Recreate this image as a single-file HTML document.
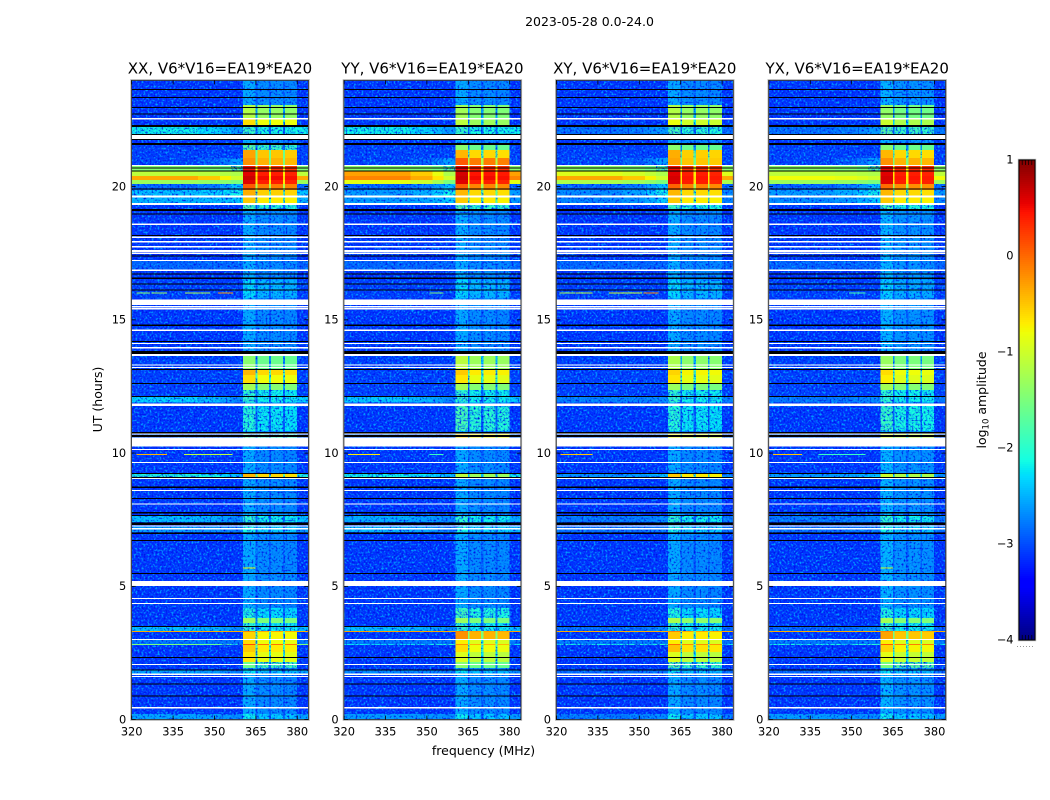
<!DOCTYPE html>
<html>
<head>
<meta charset="utf-8">
<title>2023-05-28 0.0-24.0</title>
<style>
html,body{margin:0;padding:0;background:#fff;}
#chart{display:block;width:1050px;height:800px;font-family:"DejaVu Sans","Liberation Sans",sans-serif;fill:#000;}
#chart rect.c{shape-rendering:crispEdges;}
</style>
</head>
<body>
<svg id="chart" xmlns="http://www.w3.org/2000/svg" width="1050" height="800" viewBox="0 0 1050 800">
  <defs>
    <filter id="grainLight" x="0" y="0" width="1" height="1" color-interpolation-filters="sRGB">
      <feTurbulence type="fractalNoise" baseFrequency="0.5" numOctaves="2" seed="7"/>
      <feColorMatrix type="matrix" values="0 0 0 0 0  0 0 0 0 0.62  0 0 0 0 1  4.2 0 0 0 -2.05"/>
    </filter>
    <filter id="grainDark" x="0" y="0" width="1" height="1" color-interpolation-filters="sRGB">
      <feTurbulence type="fractalNoise" baseFrequency="0.5" numOctaves="2" seed="23"/>
      <feColorMatrix type="matrix" values="0 0 0 0 0  0 0 0 0 0.05  0 0 0 0 0.9  3.6 0 0 0 -1.9"/>
    </filter>
  </defs>
  <text x="589.5" y="26" text-anchor="middle" font-size="12.5">2023-05-28 0.0-24.0</text>
  <g id="panels"></g>
  <text transform="translate(102,399.5) rotate(-90)" text-anchor="middle" font-size="12.5">UT (hours)</text>
  <text x="483.5" y="755" text-anchor="middle" font-size="12.5">frequency (MHz)</text>
  <g id="colorbar"></g>
  <text transform="translate(986,400) rotate(-90)" text-anchor="middle" font-size="12.5">log<tspan font-size="8.5" dy="2.5">10</tspan><tspan dy="-2.5"> amplitude</tspan></text>
</svg>
<script>
// ---- chart data (log10 amplitude) ----
const panelNames = ['XX', 'YY', 'XY', 'YX'];
const titleSuffix = ', V6*V16=EA19*EA20';
const freqTicks = [320, 335, 350, 365, 380];
const hourTicks = [0, 5, 10, 15, 20];
const colorTicks = [1, 0, -1, -2, -3, -4];

// Frequency channels of the heatmap columns (MHz)
const freqEdges = [320, 344, 352, 356, 360.4, 364.9, 365.5, 369.7, 370.5, 374.9, 375.5, 379.9, 384];
const subbandOffset = [0.18, 0, 0, -0.03];

// Time bands (hours)
const bandStart = [0, 22.57, 22.31, 21.97, 21.37, 21.07, 20.81, 20.58, 20.40, 20.25, 20.10, 19.87, 19.65, 19.34, 19.12, 16.87, 15.82, 13.12, 12.93, 12.63, 12.37, 12.15, 11.89, 10.83, 10.57, 9.10, 7.41, 7.04, 3.81, 3.62, 3.47, 3.33, 3.29, 3.03, 2.84, 2.80, 2.54, 2.16, 1.94, 1.71, 0];
const bandEnd = [24, 23.06, 22.57, 22.24, 21.56, 21.37, 21.07, 20.81, 20.58, 20.40, 20.25, 20.10, 19.87, 19.65, 19.34, 17.21, 16.50, 13.64, 13.12, 12.93, 12.63, 12.37, 12.11, 11.77, 10.72, 9.25, 7.64, 7.27, 4.19, 3.81, 3.62, 3.47, 3.33, 3.29, 3.03, 2.84, 2.80, 2.54, 2.16, 1.86, 0.21];

// Off-band level per time band, per correlation
const bgXX = [-3.15, -3.15, -3.15, -2.15, -3.1, -3.1, -3.1, -1.45, -1.1, -0.35, -1.3, -2.9, -2.4, -2.45, -3.15, -2.9, -3.1, -3.1, -3.1, -3.1, -3.1, -3.1, -2.3, -3.15, -2.9, -2.05, -2.4, -2.6, -3.15, -3.15, -3.15, -2.4, -0.35, -3.15, -2.8, -1.5, -3.15, -3.15, -3.15, -2.55, -2.55];
const bgYY = [-3.15, -3.15, -3.15, -2.15, -3.1, -3.1, -3.1, -1.4, -0.3, -0.15, -0.85, -2.9, -2.6, -2.6, -3.15, -2.9, -3.1, -3.1, -3.1, -3.1, -3.1, -3.1, -2.35, -3.15, -2.9, -2.15, -2.5, -2.45, -3.15, -3.15, -3.15, -2.4, -0.3, -3.15, -2.8, -2.2, -3.15, -3.15, -3.15, -2.7, -2.6];
const bgXY = [-3.15, -3.15, -3.15, -2.85, -3.1, -3.1, -3.1, -1.4, -0.9, -0.35, -1.2, -2.9, -2.7, -2.75, -3.15, -2.9, -3.1, -3.1, -3.1, -3.1, -3.1, -3.1, -2.75, -3.15, -2.9, -2.65, -2.8, -2.85, -3.15, -3.15, -3.15, -2.9, -0.35, -3.15, -2.8, -2.1, -3.15, -3.15, -3.15, -2.9, -2.8];
const bgYX = [-3.15, -3.15, -3.15, -2.85, -3.1, -3.1, -3.1, -1.4, -1.1, -0.8, -1.3, -2.9, -2.6, -2.7, -3.15, -2.9, -3.1, -3.1, -3.1, -3.1, -3.1, -3.1, -2.8, -3.15, -2.9, -2.6, -2.8, -2.85, -3.15, -3.15, -3.15, -2.9, -0.35, -3.15, -2.8, -2.1, -3.15, -3.15, -3.15, -2.9, -2.6];

// Level just below the 360 MHz band edge (skirt), per time band
const skirtLevel = [-3.15, -3.15, -3.15, -2.6, -3.1, -3.1, -2.6, -1.7, -1.2, -1.0, -1.5, -2.4, -2.15, -2.35, -3.15, -2.9, -3.1, -3.1, -3.1, -3.1, -3.1, -3.1, -2.7, -3.15, -2.9, -2.4, -2.7, -2.8, -3.15, -3.15, -3.15, -2.7, -0.35, -3.15, -2.8, -2.0, -3.15, -3.15, -3.15, -2.8, -2.7];

// In-band level per time band, per correlation
const blockXX = [-2.7, -1.35, -0.8, -2.1, -1.9, -0.5, -0.4, 0.3, 0.4, 0.5, 0.4, -0.1, -0.55, -0.7, -2.0, -2.7, -2.45, -1.6, -0.6, -0.8, -1.45, -2.15, -2.15, -2.2, -1.9, -0.6, -2.15, -2.3, -2.25, -1.5, -2.15, -2.15, -0.35, -0.75, -0.8, -0.05, -0.7, -0.85, -1.8, -2.4, -2.35];
const blockYY = [-2.7, -1.45, -1.3, -2.1, -1.6, -0.6, -0.1, 0.35, 0.45, 0.5, 0.4, -0.15, -0.6, -0.7, -1.95, -2.7, -2.45, -1.3, -0.7, -0.85, -1.45, -2.15, -2.15, -2.0, -0.75, -1.3, -2.15, -2.3, -2.05, -1.5, -2.15, -2.15, -0.3, -0.4, -0.9, -0.4, -0.8, -1.1, -1.6, -2.4, -2.35];
const blockXY = [-2.7, -1.35, -1.0, -2.0, -1.6, -0.55, -0.5, 0.3, 0.4, 0.45, 0.4, -0.15, -0.6, -0.7, -2.05, -2.7, -2.45, -1.4, -0.75, -0.85, -1.5, -2.15, -2.15, -2.2, -1.0, -0.7, -2.15, -2.3, -2.25, -1.4, -2.15, -2.15, -0.35, -0.7, -0.9, -0.2, -0.65, -1.1, -1.9, -2.4, -2.35];
const blockYX = [-2.65, -1.55, -1.2, -1.9, -1.6, -0.6, -0.4, 0.35, 0.4, 0.45, 0.4, -0.2, -0.6, -0.7, -2.05, -2.65, -2.5, -1.5, -0.8, -0.9, -1.45, -2.15, -2.15, -2.1, -1.1, -1.2, -2.15, -2.3, -2.25, -1.45, -2.15, -2.15, -0.35, -0.5, -0.9, -0.1, -0.75, -1.05, -1.7, -2.4, -2.35];

// Flagged (blanked) time ranges, hours
const whiteStart = [22.51, 21.78, 20.77, 19.59, 19.31, 18.55, 18.07, 17.90, 17.72, 17.55, 17.47, 17.20, 16.83, 15.56, 15.47, 15.39, 14.59, 14.09, 13.93, 13.64, 13.30, 13.19, 11.76, 10.69, 10.24, 10.12, 9.62, 9.03, 8.57, 8.07, 7.25, 7.14, 5.01, 4.52, 4.33, 2.98, 2.05, 1.68, 1.60, 0.42];
const whiteEnd = [22.57, 21.93, 20.81, 19.66, 19.38, 18.61, 18.12, 17.96, 17.78, 17.62, 17.52, 17.24, 16.89, 15.76, 15.52, 15.44, 14.64, 14.14, 13.98, 13.72, 13.33, 13.24, 11.87, 10.74, 10.58, 10.15, 9.66, 9.06, 8.61, 8.11, 7.29, 7.19, 5.20, 4.56, 4.37, 3.02, 2.08, 1.73, 1.64, 0.47];
const blackStart = [23.63, 23.32, 22.95, 22.70, 22.23, 21.93, 21.74, 21.56, 20.68, 20.56, 19.89, 19.08, 18.95, 18.14, 17.37, 16.70, 16.54, 16.33, 16.10, 14.77, 14.17, 13.72, 13.12, 12.59, 12.10, 10.74, 10.61, 9.22, 9.06, 8.70, 8.28, 7.74, 7.64, 7.30, 6.96, 6.70, 5.47, 3.50, 2.31, 1.85, 1.33, 0.88];
const blackEnd = [23.66, 23.36, 22.98, 22.74, 22.31, 21.97, 21.78, 21.63, 20.72, 20.60, 19.93, 19.16, 18.99, 18.18, 17.41, 16.74, 16.58, 16.37, 16.14, 14.83, 14.20, 13.84, 13.16, 12.63, 12.14, 10.79, 10.68, 9.25, 9.10, 8.74, 8.32, 7.79, 7.68, 7.40, 7.02, 6.74, 5.51, 3.52, 2.35, 1.88, 1.36, 0.91];

// Narrow-band interference segments
const spurPanel = [0, 0, 0, 0, 2, 2, 2, 2, 1, 3, 0, 0, 1, 1, 2, 3, 3, 0, 3];
const spurHour = [16.03, 16.03, 16.03, 16.03, 16.03, 16.03, 16.03, 16.03, 16.03, 16.03, 9.97, 9.97, 9.97, 9.97, 9.97, 9.97, 9.97, 5.7, 5.7];
const spurFrom = [321.8, 327.2, 339.3, 351.3, 321, 327, 339, 351.5, 351, 349, 321.8, 339, 321.5, 351, 321.5, 321.5, 338, 360.4, 360.4];
const spurTo = [326.6, 332.7, 348.4, 356.7, 326.9, 333, 351, 357, 356, 355, 332.7, 356.5, 333, 356, 333, 332, 355, 364.9, 364.9];
const spurLevel = [-1.4, -1.3, -1.2, -0.2, -1.2, -1.1, -1.0, -0.1, -1.5, -1.8, -0.4, -1.1, -0.7, -1.9, -0.5, -0.5, -1.9, -0.8, -1.0];

// ---- layout + axis functions ----
const SVGNS = 'http://www.w3.org/2000/svg';
const AX = { left: 131.7, step: 212.4, width: 176.6, top: 80.4, bottom: 719.6, fmin: 320, fmax: 384, hmax: 24 };
const CB = { left: 1019, right: 1035, top: 160, bottom: 640, vmin: -4, vmax: 1 };

function panelLeft(p) { return AX.left + p * AX.step; }
function xScale(p, f) { return panelLeft(p) + (f - AX.fmin) / (AX.fmax - AX.fmin) * AX.width; }
function yScale(h) { return AX.bottom - h * 26.65; }
function cbScale(v) { return CB.bottom - (v - CB.vmin) / (CB.vmax - CB.vmin) * (CB.bottom - CB.top); }

function ramp(t, pts) {
  for (let i = 1; i < pts.length; i++) {
    if (t <= pts[i][0]) {
      const a = pts[i - 1], b = pts[i];
      return a[1] + (b[1] - a[1]) * (t - a[0]) / (b[0] - a[0]);
    }
  }
  return pts[pts.length - 1][1];
}
function jet(v) {
  const t = Math.max(0, Math.min(1, (v - CB.vmin) / (CB.vmax - CB.vmin)));
  const r = ramp(t, [[0, 0], [0.35, 0], [0.66, 1], [0.89, 1], [1, 0.5]]);
  const g = ramp(t, [[0, 0], [0.125, 0], [0.375, 1], [0.64, 1], [0.91, 0], [1, 0]]);
  const b = ramp(t, [[0, 0.5], [0.11, 1], [0.34, 1], [0.65, 0], [1, 0]]);
  return 'rgb(' + Math.round(r * 255) + ',' + Math.round(g * 255) + ',' + Math.round(b * 255) + ')';
}

function heatCell(parent, x0, x1, y0, y1, fill) {
  const el = document.createElementNS(SVGNS, 'rect');
  
  
  el.setAttribute('class', 'c');
  el.setAttribute('x', x0.toFixed(2));
  el.setAttribute('y', y0.toFixed(2));
  el.setAttribute('width', (x1 - x0).toFixed(2));
  el.setAttribute('height', Math.max(1, y1 - y0).toFixed(2));
  el.setAttribute('fill', fill);
  parent.appendChild(el);
  return el;
}
function flagRow(parent, x0, x1, y0, y1, fill) {
  const el = document.createElementNS(SVGNS, 'rect');
  
  
  el.setAttribute('class', 'c');
  el.setAttribute('x', x0.toFixed(2));
  el.setAttribute('y', y0.toFixed(2));
  el.setAttribute('width', (x1 - x0).toFixed(2));
  el.setAttribute('height', Math.max(1, y1 - y0).toFixed(2));
  el.setAttribute('fill', fill);
  parent.appendChild(el);
}
function spurLine(parent, x0, x1, y, fill) {
  const el = document.createElementNS(SVGNS, 'rect');
  
  
  el.setAttribute('class', 'c');
  el.setAttribute('x', x0.toFixed(2));
  el.setAttribute('y', y.toFixed(2));
  el.setAttribute('width', (x1 - x0).toFixed(2));
  el.setAttribute('height', '1');
  el.setAttribute('fill', fill);
  parent.appendChild(el);
}
function tickLine(parent, x1, y1, x2, y2, w) {
  const el = document.createElementNS(SVGNS, 'line');
  
  
  el.setAttribute('x1', x1);
  el.setAttribute('y1', y1);
  el.setAttribute('x2', x2);
  el.setAttribute('y2', y2);
  el.setAttribute('stroke', '#000');
  el.setAttribute('stroke-width', w);
  parent.appendChild(el);
}
function tickText(parent, x, y, anchor, str) {
  const el = document.createElementNS(SVGNS, 'text');
  
  
  el.setAttribute('x', x);
  el.setAttribute('y', y);
  el.setAttribute('text-anchor', anchor);
  el.setAttribute('font-size', '11.4');
  el.textContent = str;
  parent.appendChild(el);
}
function frameRect(parent, x, y, w, h, stroke, sw) {
  const el = document.createElementNS(SVGNS, 'rect');
  
  
  el.setAttribute('x', x);
  el.setAttribute('y', y);
  el.setAttribute('width', w);
  el.setAttribute('height', h);
  el.setAttribute('fill', 'none');
  el.setAttribute('stroke', stroke);
  el.setAttribute('stroke-width', sw);
  parent.appendChild(el);
}
function grainRect(parent, x, y, w, h, filterId) {
  const el = document.createElementNS(SVGNS, 'rect');
  
  
  el.setAttribute('x', x);
  el.setAttribute('y', y);
  el.setAttribute('width', w);
  el.setAttribute('height', h);
  el.setAttribute('filter', 'url(#' + filterId + ')');
  parent.appendChild(el);
}
function makeGroup(parent, name) {
  const g = document.createElementNS(SVGNS, 'g');
  
  
  parent.appendChild(g);
  return g;
}

// Level of column k in time band i of panel p
function columnLevel(p, i, k, bgSet, blockSet) {
  const bg = bgSet[p][i];
  const skirt = skirtLevel[i];
  if (k === 0 || k === 11) return bg;
  if (k === 1) return bg + (skirt - bg) * 0.25;
  if (k === 2) return bg + (skirt - bg) * 0.6;
  if (k === 3) return skirt;
  if (k % 2 === 0) {
    const sub = (k - 4) / 2;
    return blockSet[p][i] + subbandOffset[sub];
  }
  return Math.max(blockSet[p][i] - 1.1, -2.95);
}

function drawPanel(p) {
  const bgSet = [bgXX, bgYY, bgXY, bgYX];
  const blockSet = [blockXX, blockYY, blockXY, blockYX];
  const root = document.getElementById('panels');
  const g = makeGroup(root, 'panel-' + panelNames[p].toLowerCase());
  const low = makeGroup(g, 'heatmap-faint-cells');
  const left = panelLeft(p), right = left + AX.width;

  const deferred = [];
  for (let i = 0; i < bandStart.length; i++) {
    const y0 = yScale(bandEnd[i]);
    const y1 = yScale(bandStart[i]);
    for (let k = 0; k < freqEdges.length - 1; k++) {
      const v = columnLevel(p, i, k, bgSet, blockSet);
      const x0 = xScale(p, freqEdges[k]);
      const x1 = xScale(p, freqEdges[k + 1]);
      if (v < -1.65) heatCell(low, x0, x1, y0, y1, jet(v));
      else deferred.push([x0, x1, y0, y1, jet(v)]);
    }
  }
  const w = AX.width, h = AX.bottom - AX.top;
  grainRect(g, left, AX.top, w, h, 'grainLight');
  grainRect(g, left, AX.top, w, h, 'grainDark');
  const high = makeGroup(g, 'heatmap-bright-cells');
  deferred.forEach(function (d) { heatCell(high, d[0], d[1], d[2], d[3], d[4]); });

  const spurs = makeGroup(g, 'interference-segments');
  for (let s = 0; s < spurHour.length; s++) {
    if (spurPanel[s] === p) {
      spurLine(spurs, xScale(p, spurFrom[s]), xScale(p, spurTo[s]), yScale(spurHour[s]), jet(spurLevel[s]));
    }
  }
  const flags = makeGroup(g, 'flagged-rows');
  for (let s = 0; s < whiteStart.length; s++) {
    flagRow(flags, left, right, yScale(whiteEnd[s]), yScale(whiteStart[s]), '#fff');
  }
  for (let s = 0; s < blackStart.length; s++) {
    flagRow(flags, left, right, yScale(blackEnd[s]), yScale(blackStart[s]), '#000');
  }

  frameRect(g, left - 0.6, AX.top - 0.4, w + 1.2, h + 0.8, '#b4b4b4', 1.6);
  frameRect(g, left - 0.2, AX.top, w + 0.4, h, 'rgba(0,0,0,0.75)', 0.8);

  const ticks = makeGroup(g, 'axis-ticks');
  freqTicks.forEach(function (f) {
    const x = xScale(p, f);
    tickLine(ticks, x, AX.top, x, AX.top + 4, 0.8);
    tickLine(ticks, x, AX.bottom, x, AX.bottom - 4, 0.8);
    tickText(ticks, x, 735.5, 'middle', String(f));
  });
  hourTicks.forEach(function (t) {
    const y = yScale(t);
    tickLine(ticks, left, y, left + 4, y, 0.8);
    tickLine(ticks, right, y, right - 4, y, 0.8);
    tickText(ticks, left - 5.5, y + 3.8, 'end', String(t));
  });

  const title = document.createElementNS(SVGNS, 'text');
  
  
  title.setAttribute('x', left + w / 2);
  title.setAttribute('y', 73.5);
  title.setAttribute('text-anchor', 'middle');
  title.setAttribute('font-size', '15');
  title.textContent = panelNames[p] + titleSuffix;
  g.appendChild(title);
}

function drawColorbar() {
  const g = document.getElementById('colorbar');
  const cells = makeGroup(g, 'colorbar-gradient');
  for (let py = CB.top; py < CB.bottom; py += 2) {
    const v = CB.vmax - (py + 1 - CB.top) / (CB.bottom - CB.top) * (CB.vmax - CB.vmin);
    const el = document.createElementNS(SVGNS, 'rect');
    
    
    el.setAttribute('class', 'c');
    el.setAttribute('x', CB.left);
    el.setAttribute('y', py);
    el.setAttribute('width', CB.right - CB.left);
    el.setAttribute('height', 2);
    el.setAttribute('fill', jet(v));
    cells.appendChild(el);
  }
  frameRect(g, CB.left - 0.5, CB.top - 0.5, CB.right - CB.left + 1, CB.bottom - CB.top + 1, '#b4b4b4', 1.4);
  frameRect(g, CB.left, CB.top, CB.right - CB.left, CB.bottom - CB.top, '#000', 1);
  const ticks = makeGroup(g, 'colorbar-ticks');
  [3.2, 6.4, 9.6, 12.8].forEach(function (dx) {
    tickLine(ticks, CB.left + dx, CB.top, CB.left + dx, CB.top + 5, 0.7);
    tickLine(ticks, CB.left + dx, CB.bottom, CB.left + dx, CB.bottom - 5, 0.7);
  });
  colorTicks.forEach(function (v) {
    const label = v < 0 ? '\u2212' + Math.abs(v) : String(v);
    tickText(ticks, 1013.5, cbScale(v) + 3.5, 'end', label);
  });
  const dots = document.createElementNS(SVGNS, 'line');
  
  
  dots.setAttribute('x1', 1017);
  dots.setAttribute('y1', 646.5);
  dots.setAttribute('x2', 1035);
  dots.setAttribute('y2', 646.5);
  dots.setAttribute('stroke', '#999');
  dots.setAttribute('stroke-width', 1);
  dots.setAttribute('stroke-dasharray', '1 2');
  g.appendChild(dots);
}

panelNames.forEach(function (_, p) { drawPanel(p); });
drawColorbar();
</script>
</body>
</html>
